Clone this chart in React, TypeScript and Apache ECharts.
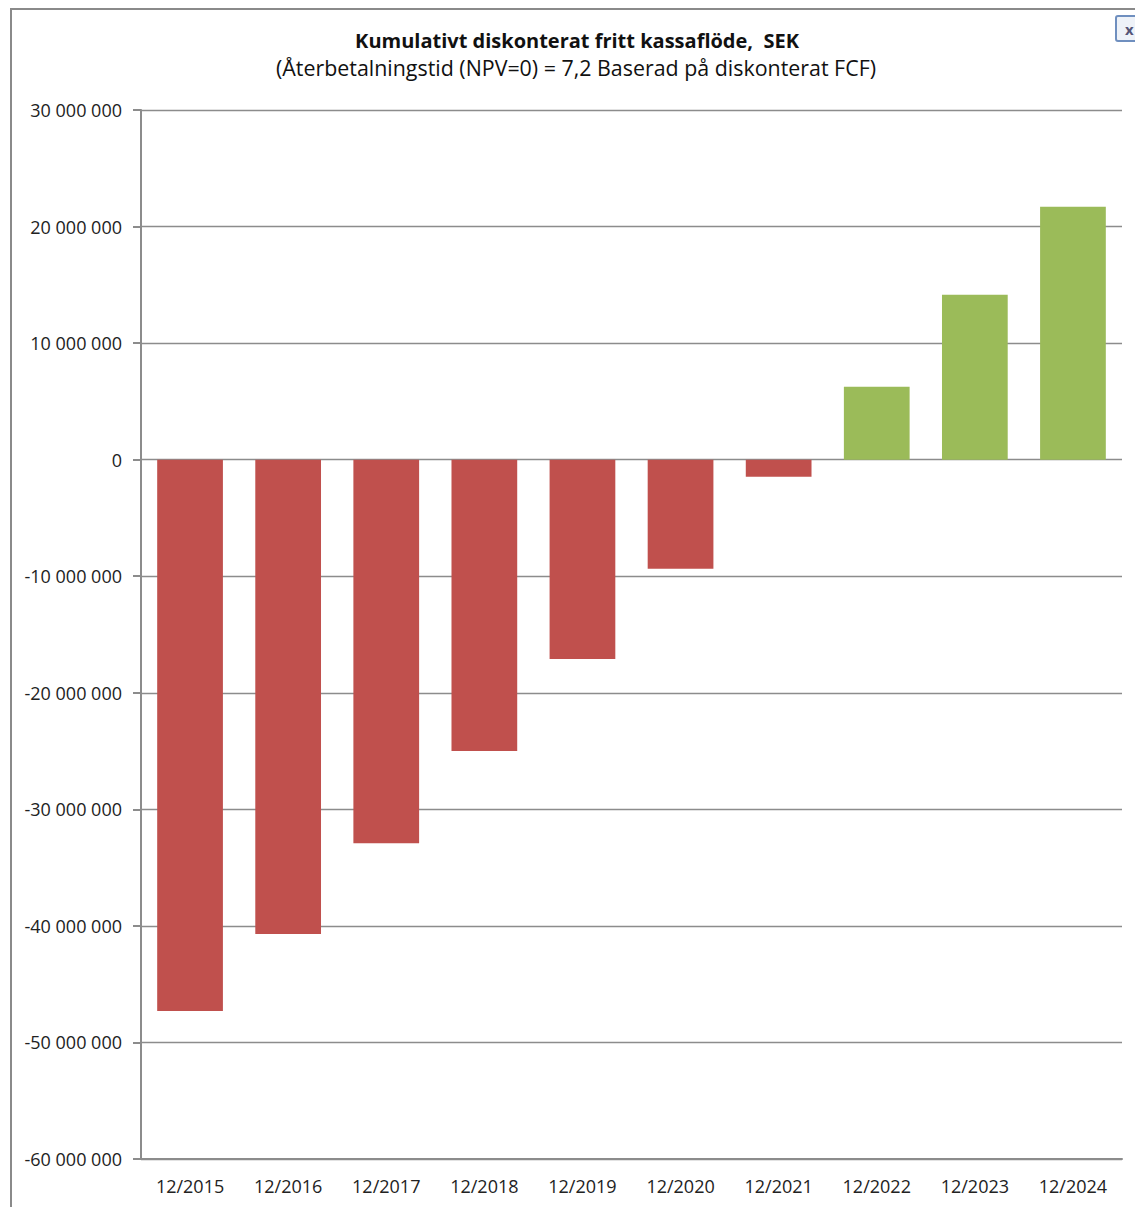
import React, { useEffect, useRef } from "react";
import * as echarts from "echarts";

const categories = ["12/2015", "12/2016", "12/2017", "12/2018", "12/2019", "12/2020", "12/2021", "12/2022", "12/2023", "12/2024"];
const cumulativeFcf = [-47300000, -40700000, -32900000, -25000000, -17100000, -9350000, -1460000, 6260000, 14150000, 21700000];
const negColor = "#C0504D";
const posColor = "#9BBB59";
const titleLine1 = "Kumulativt diskonterat fritt kassaflöde,  SEK";
const titleLine2 = "(Återbetalningstid (NPV=0) = 7,2 Baserad på diskonterat FCF)";

function fmt(v: number): string {
  const neg = v < 0;
  const s = Math.abs(v).toString().replace(/\B(?=(\d{3})+(?!\d))/g, " ");
  return (neg ? "-" : "") + s;
}

export default function App() {
  const ref = useRef<HTMLDivElement>(null);
  useEffect(() => {
    if (!ref.current) return;
    const chart = echarts.init(ref.current, null, { renderer: "svg" });
    const font = "'Open Sans', 'DejaVu Sans', sans-serif";
    chart.setOption({
      animation: false,
      backgroundColor: "#ffffff",
      title: [
        {
          text: titleLine1,
          left: 572,
          top: 25,
          textAlign: "center",
          textStyle: { fontFamily: font, fontSize: 20, fontWeight: "bold", color: "#111" },
        },
        {
          text: titleLine2,
          left: 571,
          top: 52,
          textAlign: "center",
          textStyle: { fontFamily: font, fontSize: 21.4, fontWeight: "normal", color: "#111" },
        },
      ],
      graphic: [
        {
          type: "polyline",
          shape: { points: [[11, 1207], [11, 9], [1140, 9]] },
          style: { stroke: "#8a8a8a", lineWidth: 2, fill: "none" },
          silent: true,
        },
        {
          type: "rect",
          shape: { x: 1116, y: 16, width: 24, height: 25, r: 2 },
          style: { stroke: "#6f8fbf", lineWidth: 2, fill: "#eef2f8" },
        },
        {
          type: "text",
          x: 1125,
          y: 21,
          style: { text: "x", fontFamily: font, fontSize: 15, fontWeight: "bold", fill: "#555577" },
        },
      ],
      grid: { left: 141, right: 13, top: 110, bottom: 48, containLabel: false },
      xAxis: {
        type: "category",
        data: categories,
        axisLine: { onZero: false, lineStyle: { color: "#8c8c8c", width: 2 } },
        axisTick: { show: false },
        axisLabel: { fontFamily: font, fontSize: 18, color: "#222", margin: 18 },
      },
      yAxis: {
        type: "value",
        min: -60000000,
        max: 30000000,
        interval: 10000000,
        axisLine: { show: true, lineStyle: { color: "#8c8c8c", width: 2 } },
        axisTick: { show: true, length: 8, lineStyle: { color: "#8c8c8c", width: 2 } },
        splitLine: { lineStyle: { color: "#8c8c8c", width: 1.3 } },
        axisLabel: { fontFamily: font, fontSize: 18, color: "#222", margin: 19, formatter: (v: number) => fmt(v) },
      },
      series: [
        {
          type: "bar",
          data: cumulativeFcf.map((v) => ({ value: v, itemStyle: { color: v < 0 ? negColor : posColor } })),
          barCategoryGap: "33%",
        },
      ],
    });
    return () => chart.dispose();
  }, []);
  return <div ref={ref} style={{ position: "absolute", left: 0, top: 0, width: 1135, height: 1207 }} />;
}
